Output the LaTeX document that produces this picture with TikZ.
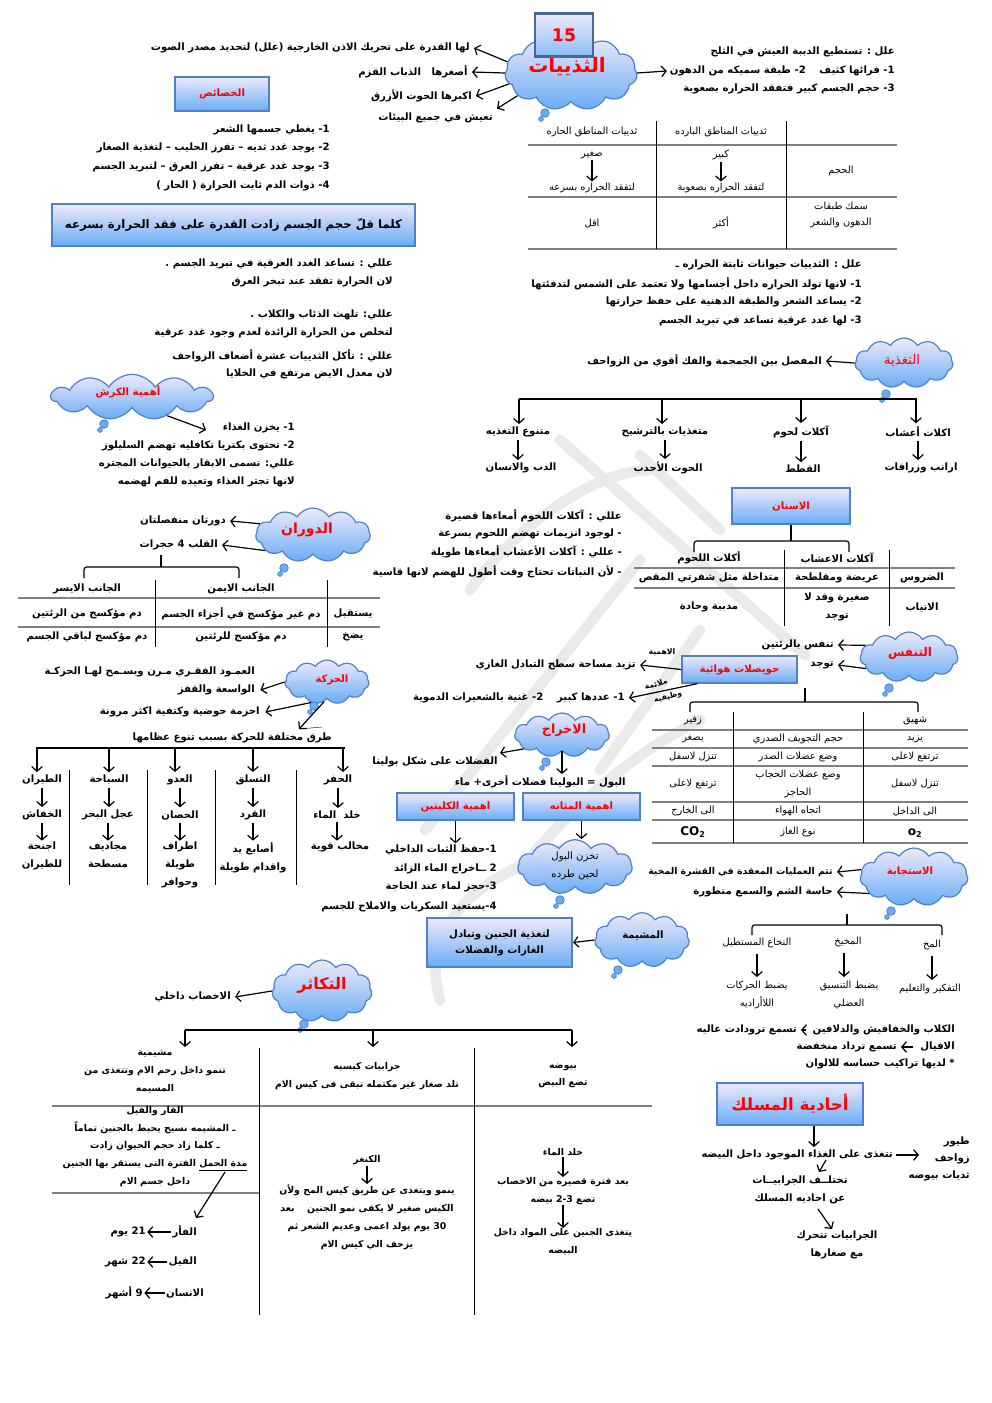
\documentclass[tikz,border=0pt]{standalone}
\usepackage{fontspec}
\usetikzlibrary{shapes.symbols,arrows.meta,calc}
\newfontfamily\arfont[Script=Arabic]{DejaVu Sans}
\TeXXeTstate=1
\newcommand\rl[1]{\beginR #1\endR}
\newcommand\lr[1]{\beginL #1\endL}
\newcommand\fA{\arfont\bfseries\fontsize{7.6}{13.5}\selectfont}
\newcommand\fR{\arfont\fontsize{7.4}{13.5}\selectfont}
\definecolor{cbord}{RGB}{79,129,202}
\definecolor{ctop}{RGB}{238,234,250}
\definecolor{cbot}{RGB}{105,172,245}
\definecolor{tred}{RGB}{255,0,0}
\definecolor{hgray}{RGB}{128,128,128}
\definecolor{wm}{RGB}{234,234,234}
\definecolor{bdark}{RGB}{70,105,150}
\tikzset{
 tx/.style={font=\fA, inner sep=0pt, text=black},
 rg/.style={font=\fR, inner sep=0pt, text=black},
 tr/.style={tx, anchor=east},
 redt/.style={text=tred},
 arr/.style={-{Straight Barb[length=3.5pt,width=8pt]}, line width=0.9pt},
 ln/.style={line width=0.9pt},
 hl/.style={draw=hgray, line width=1.4pt},
 vl/.style={draw=black, line width=0.7pt},
 bluebox/.style={draw=cbord, line width=1.3pt, top color=ctop, bottom color=cbot, inner sep=0pt},
 box15/.style={draw=bdark, line width=2pt, top color=ctop, bottom color=cbot!80, inner sep=0pt, text=tred, font=\arfont\bfseries\fontsize{13}{15}\selectfont, minimum width=43.5pt, minimum height=32pt},
 cloudn/.style={cloud, cloud puffs=11, cloud puff arc=115, cloud ignores aspect, draw=cbord, line width=0.9pt, top color=ctop, bottom color=cbot, inner sep=0pt},
}
\newcommand\tail[2]{\filldraw[draw=cbord, fill=cbot, line width=0.6pt] (#1,#2) circle (3.2pt); \filldraw[draw=cbord, fill=cbot, line width=0.5pt] (#1-4,#2+6) circle (1.8pt);}
\begin{document}
\begin{tikzpicture}[x=0.75pt,y=-0.75pt]
\useasboundingbox (0,0) rectangle (992,1403);
\fill[white] (0,0) rectangle (992,1403);
% watermark
\begin{scope}[draw=wm, line width=8pt, line cap=round]
\draw (560,440) -- (805,655);
\draw (640,455) -- (720,530);
\draw (470,590) .. controls (520,520) and (600,470) .. (650,470);
\draw (425,830) -- (640,560);
\draw (520,870) .. controls (560,820) and (620,760) .. (700,720);
\draw (440,1000) .. controls (420,930) and (470,880) .. (560,850);
\draw (600,770) -- (700,630);
\end{scope}

% ================= TOP =================
\node[cloudn, minimum width=99pt, minimum height=56pt] (thy) at (571,73) {};
\tail{545}{113}
\node[tx, redt, font=\arfont\bfseries\fontsize{15}{18}\selectfont] (thyt) at (567,67) {\rl{الثذييات}};
\node[box15] (b15) at (564,35) {15};

\node[tr] (t1) at (470,48) {\rl{لها القدرة على تحريك الاذن الخارجية (علل) لتحديد مصدر الصوت}};
\node[tr] (t2) at (468,72) {\rl{أصغرها \ \ الذباب القزم}};
\node[tr] (t3) at (472,96) {\rl{اكبرها الحوت الأزرق}};
\node[tr] (t4) at (493,118) {\rl{تعيش في جميع البيئات}};
\draw[arr] (thy.170) -- ([xshift=3pt]t1.east);
\draw[arr] (thy.180) -- ([xshift=3pt]t2.east);
\draw[arr] (thy.190) -- ([xshift=3pt]t3.east);
\draw[arr] (thy.203) -- ([xshift=3pt,yshift=3pt]t4.north east);

\node[tr] (r1) at (895,52) {\rl{علل : تستطيع الدببة العيش في الثلج}};
\node[tr] (r2) at (895,71) {\rl{1- فرائها كثيف \quad 2- طبقة سميكه من الدهون}};
\node[tr] (r3) at (895,89) {\rl{3- حجم الجسم كبير فتفقد الحراره بصعوبة}};
\draw[arr] (thy.east) -- ([xshift=-2pt]r2.west);

\node[bluebox, tx, redt, minimum width=71pt, minimum height=26pt] (khs) at (222,94) {\rl{الخصائص}};
\node[tr] (k1) at (330,130) {\rl{1- يغطي جسمها الشعر}};
\node[tr] (k2) at (330,148) {\rl{2- يوجد غدد ثديه – تفرز الحليب – لتغذية الصغار}};
\node[tr] (k3) at (330,167) {\rl{3- يوجد غدد عرقية – تفرز العرق – لتبريد الجسم}};
\node[tr] (k4) at (330,186) {\rl{4- ذوات الدم ثابت الحرارة ( الحار )}};
\node[bluebox, tx, font=\arfont\bfseries\fontsize{8.8}{10}\selectfont, minimum width=272pt, minimum height=31.5pt] (kul) at (233.5,225) {\rl{كلما قلّ حجم الجسم زادت القدرة على فقد الحرارة بسرعه}};

% top table
\draw[hl] (528,145) -- (897,145);
\draw[hl] (528,197) -- (897,197);
\draw[hl] (528,249) -- (897,249);
\draw[vl] (656,121) -- (656,249);
\draw[vl] (786,121) -- (786,249);
\node[rg] (th1) at (721,132) {\rl{ثدييات المناطق البارده}};
\node[rg] (th2) at (592,132) {\rl{ثدييات المناطق الحاره}};
\node[rg] (th3) at (841,171) {\rl{الحجم}};
\node[rg] (kb) at (721,155) {\rl{كبير}};
\node[rg] (kb2) at (721,188) {\rl{لتفقد الحراره بصعوبة}};
\node[rg] (sg) at (592,155) {\rl{صغير}};
\node[rg] (sg2) at (592,188) {\rl{لتفقد الحراره بسرعه}};
\draw[arr, shorten <=1pt, shorten >=1pt] (kb) -- (kb2);
\draw[arr, shorten <=1pt, shorten >=1pt] (sg) -- (sg2);
\node[rg, align=center, font=\arfont\fontsize{7.4}{12.5}\selectfont] (th4) at (841,215) {\rl{سمك طبقات}\\\rl{الدهون والشعر}};
\node[rg] (th5) at (721,223) {\rl{أكثر}};
\node[rg] (th6) at (592,223) {\rl{اقل}};

% ================= MIDDLE =================
\node[tr] (m1) at (393,264) {\rl{عللي : تساعد الغدد العرقية في تبريد الجسم .}};
\node[tr] (m2) at (393,282) {\rl{لان الحرارة تفقد عند تبخر العرق}};
\node[tr] (m3) at (393,315) {\rl{عللي: تلهث الذئاب والكلاب .}};
\node[tr] (m4) at (393,333) {\rl{لتخلص من الحرارة الزائدة لعدم وجود غدد عرقية}};
\node[tr] (m5) at (393,356) {\rl{عللي : تأكل الثدييات عشرة أضعاف الزواحف}};
\node[tr] (m6) at (393,374) {\rl{لان معدل الايض مرتفع في الخلايا}};

\node[tr] (n1) at (862,265) {\rl{علل : الثدييات حيوانات ثابتة الحراره ـ}};
\node[tr] (n2) at (862,284) {\rl{1- لانها تولد الحراره داخل أجسامها ولا تعتمد على الشمس لتدفئتها}};
\node[tr] (n3) at (862,302) {\rl{2- يساعد الشعر والطبقة الدهنية على حفظ حرارتها}};
\node[tr] (n4) at (862,321) {\rl{3- لها غدد عرقية تساعد في تبريد الجسم}};

% feeding
\node[cloudn, minimum width=73.5pt, minimum height=37.5pt] (tagh) at (904,363) {};
\tail{886}{394}
\node[rg, redt, font=\arfont\fontsize{10}{12}\selectfont] (taght) at (902,360) {\rl{التغذية}};
\node[tr] (mfs) at (822,361) {\rl{المفصل بين الجمجمة والفك أقوي من الزواحف}};
\draw[arr] (tagh.west) -- ([xshift=3pt]mfs.east);
\draw[ln] (519,399) -- (917,399);
\coordinate (f1t) at (916,399);
\coordinate (f2t) at (801,399);
\coordinate (f3t) at (662,399);
\coordinate (f4t) at (519,399);
\node[tx] (f1) at (918,432) {\rl{اكلات أعشاب}};
\node[tx] (f2) at (801,432) {\rl{آكلات لحوم}};
\node[tx] (f3) at (665,432) {\rl{متغذيات بالترشيح}};
\node[tx] (f4) at (518,432) {\rl{متنوع التغذيه}};
\node[tx] (g1) at (921,468) {\rl{ارانب وزرافات}};
\node[tx] (g2) at (803,469) {\rl{القطط}};
\node[tx] (g3) at (668,468) {\rl{الحوت الأحدب}};
\node[tx] (g4) at (521,468) {\rl{الدب والانسان}};
\foreach \n in {1,2,3,4}{
  \draw[arr, shorten >=2pt] (f\n t) -- (f\n t |- f\n.north);
  \draw[arr, shorten >=2pt, shorten <=2pt] (f\n.south) -- (f\n.south |- g\n.north);
}

% karsh
\node[cloudn, minimum width=121pt, minimum height=34pt] (karsh) at (132,397) {};
\tail{104}{424}
\node[tx, redt] (karsht) at (128,392) {\rl{أهمية الكرش}};
\coordinate (ktip) at (206,430);
\draw[arr] (karsh.-28) -- (ktip);
\node[tr] (q1) at (295,428) {\rl{1- يخزن الغذاء}};
\node[tr] (q2) at (295,446) {\rl{2- تحتوى بكتريا تكافليه تهضم السليلوز}};
\node[tr] (q3) at (295,464) {\rl{عللي: تسمى الابقار بالحيوانات المجتره}};
\node[tr] (q4) at (295,482) {\rl{لانها تجتر الغذاء وتعيده للفم لهضمه}};

% teeth
\node[bluebox, tx, redt, minimum width=88pt, minimum height=27pt] (asn) at (791,506) {\rl{الاسنان}};
\draw[ln, rounded corners=2pt] (694,552) |- (791,541) -| (849,552);
\draw[ln] (asn.south) -- (791,541);
\draw[hl] (634,568) -- (955,568);
\draw[hl] (634,588) -- (955,588);
\draw[vl] (784,550) -- (784,626);
\draw[vl] (889,550) -- (889,626);
\node[tx] (a1) at (709,558) {\rl{أكلات اللحوم}};
\node[tx] (a2) at (837,558) {\rl{آكلات الاعشاب}};
\node[tx] (a3) at (922,578) {\rl{الضروس}};
\node[tx] (a4) at (837,578) {\rl{عريضة ومقلطحة}};
\node[tx] (a5) at (709,578) {\rl{متداخلة مثل شفرتي المقص}};
\node[tx] (a6) at (922,607) {\rl{الانياب}};
\node[tx, align=center, font=\arfont\bfseries\fontsize{7.6}{13.5}\selectfont] (a7) at (837,607) {\rl{صغيرة وقد لا}\\\rl{توجد}};
\node[tx] (a8) at (709,607) {\rl{مدببة وحادة}};

\node[tr] (w1) at (622,516) {\rl{عللي : آكلات اللحوم أمعاءها قصيرة}};
\node[tr] (w2) at (622,534) {\rl{- لوجود انزيمات تهضم اللحوم بسرعة}};
\node[tr] (w3) at (622,552) {\rl{- عللي : آكلات الأعشاب أمعاءها طويلة}};
\node[tr] (w4) at (622,572) {\rl{- لأن النباتات تحتاج وقت أطول للهضم لانها قاسية}};

% circulation
\node[cloudn, minimum width=86pt, minimum height=40.5pt] (dwr) at (313,535) {};
\tail{284}{568}
\node[tx, redt, font=\arfont\bfseries\fontsize{10.5}{12}\selectfont] (dwrt) at (307,530) {\rl{الدوران}};
\node[tr] (d1) at (226,521) {\rl{دورتان منفصلتان}};
\node[tr] (d2) at (218,545) {\rl{القلب 4 حجرات}};
\draw[arr] (dwr.168) -- ([xshift=3pt]d1.east);
\draw[arr] (dwr.198) -- ([xshift=3pt]d2.east);
\coordinate (dtick) at (161,555);
\draw[ln, rounded corners=2pt] (84,578) |- (161,567) -| (239,578);
\draw[ln] (dtick) -- (161,567);
\draw[hl] (18,598) -- (380,598);
\draw[hl] (18,627) -- (380,627);
\draw[vl] (155,580) -- (155,647);
\draw[vl] (327,580) -- (327,647);
\node[tx] (c1) at (241,589) {\rl{الجانب الايمن}};
\node[tx] (c2) at (87,589) {\rl{الجانب الايسر}};
\node[tx] (c3) at (353,614) {\rl{يستقبل}};
\node[tx] (c4) at (241,614) {\rl{دم غير مؤكسج في أجزاء الجسم}};
\node[tx] (c5) at (87,614) {\rl{دم مؤكسج من الرئتين}};
\node[tx] (c6) at (353,637) {\rl{يضخ}};
\node[tx] (c7) at (241,637) {\rl{دم مؤكسج للرئتين}};
\node[tx] (c8) at (87,637) {\rl{دم مؤكسج لباقي الجسم}};

% movement
\node[cloudn, minimum width=63pt, minimum height=33pt] (hrk) at (327,682) {};
\tail{314}{706}
\node[tx, redt] (hrkt) at (332,680) {\rl{الحركة}};
\node[tr] (h1) at (255,672) {\rl{العمـود الفقـري مـرن ويسـمح لهـا الحركـة}};
\node[tr] (h2) at (255,690) {\rl{الواسعة والقفز}};
\node[tr] (h3) at (260,712) {\rl{احزمة حوضية وكتفية اكثر مرونة}};
\draw[arr] (hrk.west) -- ([xshift=4pt]h2.east);
\draw[arr] (hrk.232) -- ([xshift=4pt]h3.east);
\coordinate (htip) at (299,729);
\draw[arr] (hrk.262) -- (htip);
\draw[line width=0.3pt] (htip) -- (322,727);
\node[tr] (h4) at (332,738) {\rl{طرق مختلفة للحركة بسبب تنوع عظامها}};
\draw[ln] (36,748) -- (345,748);
\coordinate (e1t) at (37,748);
\coordinate (e2t) at (109,748);
\coordinate (e3t) at (175,748);
\coordinate (e4t) at (253,748);
\coordinate (e5t) at (343,748);
\node[tx] (e1) at (42,780) {\rl{الطيران}};
\node[tx] (e2) at (109,780) {\rl{السباحة}};
\node[tx] (e3) at (180,780) {\rl{العدو}};
\node[tx] (e4) at (253,780) {\rl{التسلق}};
\node[tx] (e5) at (338,780) {\rl{الحفر}};
\node[tx] (o1) at (42,815) {\rl{الخفاش}};
\node[tx] (o2) at (108,815) {\rl{عجل البحر}};
\node[tx] (o3) at (180,815) {\rl{الحصان}};
\node[tx] (o4) at (253,815) {\rl{القرد}};
\node[tx] (o5) at (337,815) {\rl{خلد \ الماء}};
\node[tx, align=center, anchor=north] (p1) at (42,842) {\rl{اجنحة}\\\rl{للطيران}};
\node[tx, align=center, anchor=north] (p2) at (108,842) {\rl{مجاديف}\\\rl{مسطحة}};
\node[tx, align=center, anchor=north] (p3) at (180,842) {\rl{اطراف}\\\rl{طويلة}\\\rl{وحوافر}};
\node[tx, align=center, anchor=north] (p4) at (253,842) {\rl{أصابع يد}\\\rl{واقدام طويلة}};
\node[tx, align=center, anchor=north] (p5) at (340,842) {\rl{مخالب قوية}};
\foreach \n in {1,2,3,4,5}{
  \draw[arr, shorten >=2pt] (e\n t) -- (e\n t |- e\n.north);
  \draw[arr, shorten >=2pt, shorten <=2pt] (e\n.south) -- (e\n.south |- o\n.north);
  \draw[arr, shorten >=1pt, shorten <=2pt] (o\n.south) -- (o\n.south |- p\n.north);
}
\draw[vl] (69,770) -- (69,885);
\draw[vl] (147,770) -- (147,885);
\draw[vl] (215,770) -- (215,885);
\draw[vl] (296,770) -- (296,885);

% respiration
\node[cloudn, minimum width=73.5pt, minimum height=37.5pt] (tnf) at (909,657) {};
\tail{889}{688}
\node[tx, redt, font=\arfont\bfseries\fontsize{9}{11}\selectfont] (tnft) at (910,653) {\rl{التنفس}};
\node[tr] (s1) at (834,645) {\rl{تنفس بالرئتين}};
\node[tr] (s2) at (834,665) {\rl{توجد}};
\draw[arr] (tnf.165) -- ([xshift=3pt]s1.east);
\draw[arr] (tnf.195) -- ([xshift=3pt]s2.east);
\node[bluebox, tx, redt, minimum width=86pt, minimum height=20pt] (hwy) at (739.5,669.5) {\rl{حويصلات هوائية}};
\node[tr] (s3) at (636,665) {\rl{تزيد مساحة سطح التبادل الغازي}};
\draw[arr] (hwy.west) -- ([xshift=3pt]s3.east);
\node[rg, font=\arfont\bfseries\fontsize{5.8}{7}\selectfont] (lbl1) at (662,652) {\rl{الاهمية}};
\node[tr] (s4) at (625,698) {\rl{1- عددها كبير \quad 2- غنية بالشعيرات الدموية}};
\draw[arr] ([xshift=12pt]hwy.south west) -- ([xshift=3pt]s4.east);
\node[rg, font=\arfont\bfseries\fontsize{5.8}{7}\selectfont, rotate=15] (lbl2) at (656,684) {\rl{ملائمة}};
\node[rg, font=\arfont\bfseries\fontsize{5.8}{7}\selectfont, rotate=15] (lbl3) at (668,697) {\rl{وظيفيه}};
\coordinate (rtick) at (805,688);
\draw[ln, rounded corners=2pt] (690,712) |- (805,702) -| (918,712);
\draw[ln] (rtick) -- (805,702);
\foreach \yy in {730,748,766,802,820,843} \draw[hl] (652,\yy) -- (968,\yy);
\draw[vl] (733,712) -- (733,843);
\draw[vl] (863,712) -- (863,843);
\node[rg] (u1) at (693,721) {\rl{زفير}};
\node[rg] (u2) at (915,721) {\rl{شهيق}};
\node[rg] (u3) at (693,739) {\rl{يصغر}};
\node[rg] (u4) at (798,739) {\rl{حجم التجويف الصدري}};
\node[rg] (u5) at (915,739) {\rl{يزيد}};
\node[rg] (u6) at (693,757) {\rl{تنزل لاسفل}};
\node[rg] (u7) at (798,757) {\rl{وضع عضلات الصدر}};
\node[rg] (u8) at (915,757) {\rl{ترتفع لاعلى}};
\node[rg] (u9) at (693,784) {\rl{ترتفع لاعلى}};
\node[rg, align=center] (u10) at (798,784) {\rl{وضع عضلات الحجاب}\\\rl{الحاجز}};
\node[rg] (u11) at (915,784) {\rl{تنزل لاسفل}};
\node[rg] (u12) at (693,811) {\rl{الى الخارج}};
\node[rg] (u13) at (798,811) {\rl{اتجاه الهواء}};
\node[rg] (u14) at (915,811) {\rl{الى الداخل}};
\node[tx, font=\arfont\bfseries\fontsize{9}{11}\selectfont] (u15) at (693,832) {CO\textsubscript{2}};
\node[rg] (u16) at (798,832) {\rl{نوع الغاز}};
\node[tx, font=\arfont\bfseries\fontsize{9}{11}\selectfont] (u17) at (915,833) {o\textsubscript{2}};

% excretion
\node[cloudn, minimum width=71pt, minimum height=33pt] (ikh) at (562,735) {};
\tail{546}{762}
\node[tx, redt, font=\arfont\bfseries\fontsize{9.5}{11}\selectfont] (ikht) at (564,730) {\rl{الاخراج}};
\node[tr] (x1) at (498,762) {\rl{الفضلات على شكل بولينا}};
\coordinate (xtip) at (500,753);
\draw[arr] (ikh.200) -- (xtip);
\node[tr] (x2) at (626,782) {\rl{البول = البولينا فضلات أخرى+ ماء}};
\draw[arr, shorten >=1pt] (ikh.south) -- (ikh.south |- x2.north);
\node[bluebox, tx, redt, minimum width=88pt, minimum height=20pt] (mth) at (581.5,806.5) {\rl{اهمية المثانه}};
\node[bluebox, tx, redt, minimum width=88pt, minimum height=20pt] (kly) at (455.5,806.5) {\rl{اهمية الكليتين}};
\node[tr] (y1) at (497,850) {\rl{1-حفظ الثبات الداخلي}};
\node[tr] (y2) at (497,869) {\rl{2 ــاخراج الماء الزائد}};
\node[tr] (y3) at (497,887) {\rl{3-حجز لماء عند الحاجة}};
\node[tr] (y4) at (497,907) {\rl{4-يستعيد السكريات والاملاح للجسم}};
\draw[arr, shorten >=1pt] (kly.south) -- (kly.south |- y1.north);
\node[cloudn, minimum width=86pt, minimum height=41pt] (str) at (575,867) {};
\tail{560}{900}
\node[rg, align=center, font=\arfont\fontsize{7.6}{13}\selectfont] (strt) at (575,866) {\rl{تخزن البول}\\\rl{لحين طرده}};
\draw[arr] (mth.south) -- (mth.south |- str.north);

% response
\node[cloudn, minimum width=81pt, minimum height=43.5pt] (ist) at (914,877) {};
\tail{891}{911}
\node[tx, redt] (istt) at (910,872) {\rl{الاستجابة}};
\node[tr, font=\arfont\bfseries\fontsize{7}{12}\selectfont] (v1) at (833,872) {\rl{تتم العمليات المعقدة في القشرة المخية}};
\node[tr] (v2) at (833,892) {\rl{حاسة الشم والسمع متطورة}};
\draw[arr] (ist.172) -- ([xshift=3pt]v1.east);
\draw[arr] (ist.200) -- ([xshift=3pt]v2.east);
\coordinate (btick) at (847,914);
\draw[ln, rounded corners=2pt] (752,935) |- (847,925) -| (942,935);
\draw[ln] (btick) -- (847,925);
\node[rg] (z1) at (757,943) {\rl{النخاع المستطيل}};
\node[rg] (z2) at (848,942) {\rl{المخيخ}};
\node[rg] (z3) at (932,945) {\rl{المخ}};
\node[rg, align=center, anchor=north] (zz1) at (757,981) {\rl{يضبط الحركات}\\\rl{اللاأراديه}};
\node[rg, align=center, anchor=north] (zz2) at (849,981) {\rl{يضبط التنسيق}\\\rl{العضلي}};
\node[rg, anchor=north] (zz3) at (930,984) {\rl{التفكير والتعليم}};
\draw[arr, shorten <=4pt, shorten >=3pt] (z1.south) -- (z1.south |- zz1.north);
\draw[arr, shorten <=4pt, shorten >=3pt] ([xshift=-3pt]z2.south) -- ([xshift=-3pt]z2.south |- zz2.north);
\draw[arr, shorten <=4pt, shorten >=3pt] (z3.south) -- (z3.south |- zz3.north);
\node[tr] (hh1) at (955,1030) {\rl{الكلاب والخفافيش والدلافين}};
\node[tr] (hh2) at (797,1030) {\rl{تسمع ترودادت عاليه}};
\draw[arr, shorten <=5pt, shorten >=3pt] (hh1.west) -- (hh2.east);
\node[tr] (hh3) at (955,1047) {\rl{الافيال}};
\node[tr] (hh4) at (897,1047) {\rl{تسمع ترداد منخفضة}};
\draw[arr, shorten <=5pt, shorten >=3pt] (hh3.west) -- (hh4.east);
\node[tr] (hh5) at (955,1064) {\rl{* لديها تراكيب حساسه للالوان}};

% placenta
\node[bluebox, tx, align=center, font=\arfont\bfseries\fontsize{7.6}{12}\selectfont, minimum width=109pt, minimum height=37pt] (plc) at (499.5,942.5) {\rl{لتغذية الجنين وتبادل}\\\rl{الغازات والفضلات}};
\node[cloudn, minimum width=71pt, minimum height=41pt] (msh) at (642,940) {};
\tail{618}{970}
\node[tx] (msht) at (643,935) {\rl{المشيمة}};
\draw[arr] (msh.west) -- (plc.east);

% reproduction
\node[cloudn, minimum width=75pt, minimum height=46.5pt] (tkt) at (322,991) {};
\tail{304}{1024}
\node[tx, redt, font=\arfont\bfseries\fontsize{12}{14}\selectfont] (tktt) at (322,985) {\rl{التكاثر}};
\node[tr] (i1) at (231,997) {\rl{الاخصاب داخلي}};
\draw[arr] (tkt.west) -- ([xshift=3pt]i1.east);
\draw[ln] (185,1030) -- (572,1030);
\coordinate (rb1) at (185,1030);
\coordinate (rb2) at (373,1030);
\coordinate (rb3) at (572,1030);
\coordinate (rb1e) at (185,1047);
\coordinate (rb2e) at (373,1047);
\coordinate (rb3e) at (572,1047);
\draw[arr] (rb1) -- (rb1e);
\draw[arr] (rb2) -- (rb2e);
\draw[arr] (rb3) -- (rb3e);
\draw[hl] (52,1106) -- (652,1106);
\draw[hl] (52,1193) -- (259,1193);
\draw[vl] (259,1048) -- (259,1315);
\draw[vl] (474,1048) -- (474,1315);
\node[tx, align=center, anchor=north, font=\arfont\bfseries\fontsize{7}{13.5}\selectfont] (j1) at (155,1050) {\rl{مشيمية}\\\rl{تنمو داخل رحم الام وتتغذى من}\\\rl{المسيمه}};
\node[tx, align=center, font=\arfont\bfseries\fontsize{7}{13}\selectfont] (j2) at (367,1076) {\rl{جرابيات كيسيه}\\\rl{تلد صغار غير مكتمله تبقى فى كيس الام}};
\node[tx, align=center, font=\arfont\bfseries\fontsize{7}{13}\selectfont] (j3) at (563,1076) {\rl{بيوضه}\\\rl{تضع البيض}};
\node[tx, align=center, anchor=north, font=\arfont\bfseries\fontsize{7}{13.3}\selectfont] (j4) at (155,1106) {\rl{الفار والفيل}\\\rl{ـ المشيمه نسيج يحيط بالجنين تماماً}\\\rl{ـ كلما زاد حجم الحيوان زادت}\\\rl{\underline{\rl{مدة الحمل}} الفترة التى يستقر بها الجنين}\\\rl{داخل جسم الام}};
\coordinate (gs) at (225,1172);
\coordinate (ge) at (196,1218);
\draw[arr] (gs) -- (ge);
\node[tr] (l1) at (197,1232) {\rl{الفأر}};
\node[tr] (l2) at (146,1232) {\rl{21 يوم}};
\node[tr] (l3) at (197,1262) {\rl{الفيل}};
\node[tr] (l4) at (146,1262) {\rl{22 شهر}};
\node[tr] (l5) at (204,1293) {\rl{الانسان}};
\node[tr] (l6) at (143,1293) {\rl{9 أشهر}};
\draw[arr, shorten <=1pt, shorten >=1pt] (l1.west) -- (l2.east);
\draw[arr, shorten <=1pt, shorten >=1pt] (l3.west) -- (l4.east);
\draw[arr, shorten <=1pt, shorten >=1pt] (l5.west) -- (l6.east);
\node[tx, font=\arfont\bfseries\fontsize{7}{13}\selectfont] (kg) at (367,1160) {\rl{الكنغر}};
\node[tx, align=center, anchor=north, font=\arfont\bfseries\fontsize{7}{13.5}\selectfont] (kg2) at (367,1184) {\rl{ينمو ويتغذى عن طريق كيس المح ولأن}\\\rl{الكيس صغير لا يكفى نمو الجنين \quad بعد}\\\rl{30 يوم يولد اعمى وعديم الشعر ثم}\\\rl{يزحف الي كيس الام}};
\draw[arr, shorten <=1pt] (kg.south) -- (kg2.north);
\node[tx, font=\arfont\bfseries\fontsize{7}{13}\selectfont] (kh) at (563,1152) {\rl{خلد الماء}};
\node[tx, align=center, anchor=north, font=\arfont\bfseries\fontsize{7}{13.5}\selectfont] (kh2) at (563,1177) {\rl{بعد فترة قصيره من الاخصاب}\\\rl{تضع 2-3 بيضه}};
\node[tx, align=center, anchor=north, font=\arfont\bfseries\fontsize{7}{13.5}\selectfont] (kh3) at (563,1228) {\rl{يتغذى الجنين على المواد داخل}\\\rl{البيضه}};
\draw[arr, shorten <=1pt] (kh.south) -- (kh2.north);
\draw[arr] (kh2.south) -- (kh3.north);

% single-track (monotremes)
\node[bluebox, tx, redt, font=\arfont\bfseries\fontsize{12.5}{14}\selectfont, minimum width=109.5pt, minimum height=31.5pt] (ahd) at (790,1104) {\rl{أحادية المسلك}};
\node[tr] (aa1) at (893,1155) {\rl{تتغذى على الغذاء الموجود داخل البيضه}};
\draw[arr, shorten >=2pt] ([xshift=18pt]ahd.south) -- ([xshift=18pt]ahd.south |- aa1.north);
\node[tx, align=right, anchor=east, font=\arfont\bfseries\fontsize{7.6}{12.8}\selectfont] (aa2) at (970,1159) {\rl{طيور}\\\rl{زواحف}\\\rl{ثديات بيوضه}};
\coordinate (aa2tip) at (919,1155);
\draw[arr, shorten <=2pt] (aa1.east) -- (aa2tip);
\node[tx, align=center, anchor=north] (aa3) at (800,1176) {\rl{تختلــف الجرابيــات}\\\rl{عن احاديه المسلك}};
\coordinate (aas) at (826,1160);
\coordinate (aae) at (819,1172);
\draw[arr] (aas) -- (aae);
\coordinate (abs) at (818,1209);
\coordinate (abe) at (832,1229);
\draw[arr] (abs) -- (abe);
\node[tx, align=center, anchor=north] (aa4) at (837,1231) {\rl{الجرابيات تتحرك}\\\rl{مع صغارها}};
\end{tikzpicture}
\end{document}
